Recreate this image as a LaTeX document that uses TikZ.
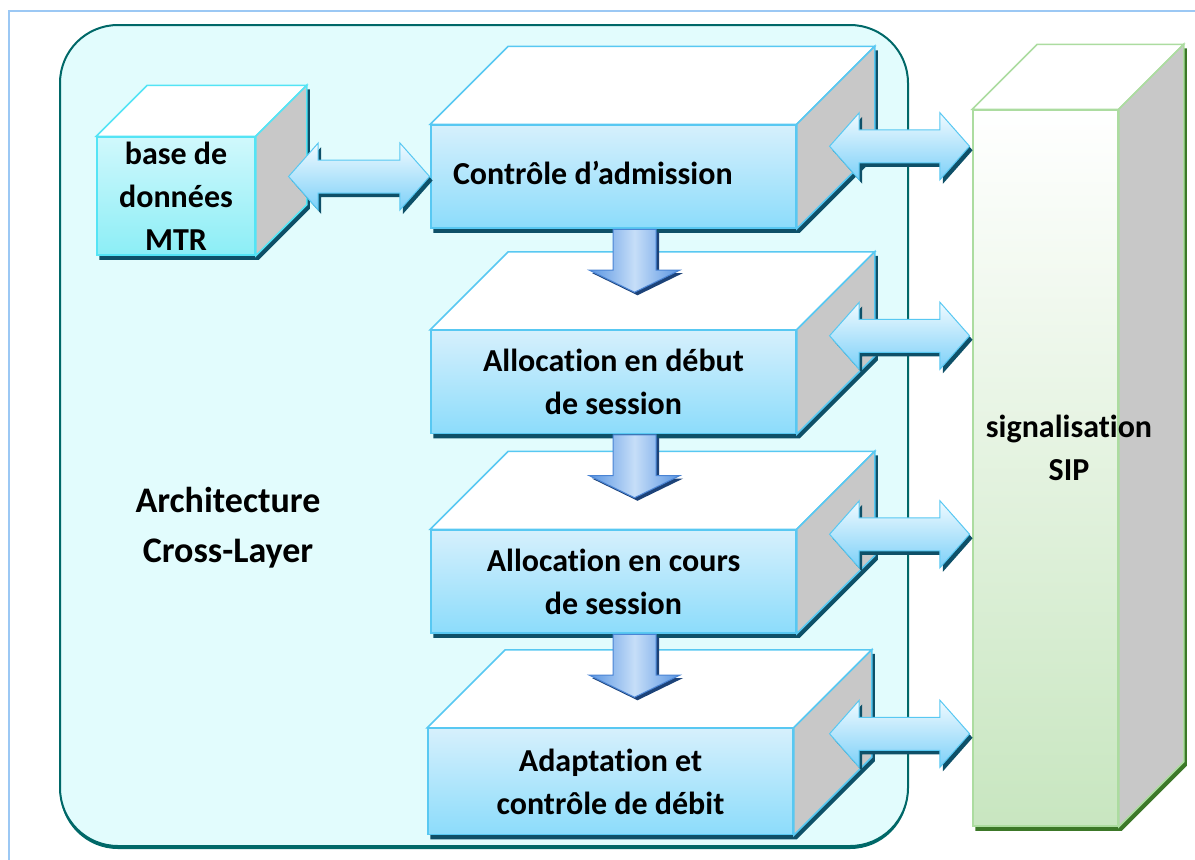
\documentclass[tikz,border=0pt]{standalone}
\usepackage{fontspec}
\setmainfont{Carlito}[Ligatures=NoCommon]
\usetikzlibrary{positioning, calc, shapes.arrows, shadows}
\definecolor{framecol}{RGB}{156,200,244}
\definecolor{xlfill}{RGB}{226,252,253}
\definecolor{xlline}{RGB}{0,104,104}
\definecolor{boxline}{RGB}{88,200,242}
\definecolor{boxtop}{RGB}{214,240,252}
\definecolor{boxbot}{RGB}{140,220,251}
\definecolor{boxside}{RGB}{200,200,200}
\definecolor{boxshadow}{RGB}{14,80,104}
\definecolor{dbline}{RGB}{84,228,245}
\definecolor{dbtop}{RGB}{208,248,252}
\definecolor{dbbot}{RGB}{140,238,246}
\definecolor{sipline}{RGB}{172,220,160}
\definecolor{sipbot}{RGB}{200,230,192}
\definecolor{sipshadow}{RGB}{60,120,40}
\definecolor{arrtop}{RGB}{240,250,255}
\definecolor{arrbot}{RGB}{124,208,248}
\definecolor{downedge}{RGB}{88,148,226}
\definecolor{downmid}{RGB}{198,222,248}
\definecolor{downline}{RGB}{74,132,212}
\definecolor{downshadow}{RGB}{28,66,120}

\pgfdeclarelayer{bglayer}
\pgfdeclarelayer{shadowlayer}
\pgfsetlayers{bglayer,shadowlayer,main}

% top and side faces of a box, plus its shadow
\newcommand{\cubefaces}[4]{%
  \begin{pgfonlayer}{shadowlayer}
    \fill[#4, transform canvas={xshift=3pt, yshift=-4pt}] (#1.north west) -- ++(#2,-#2)
      -- ($(#1.north east)+(#2,-#2)$) -- ($(#1.south east)+(#2,-#2)$)
      -- (#1.south east) -- (#1.south west) -- cycle;
  \end{pgfonlayer}
  \draw[#3, line width=1.5pt, fill=white] (#1.north west) -- ++(#2,-#2)
    -- ($(#1.north east)+(#2,-#2)$) -- (#1.north east) -- cycle;
  \draw[#3, line width=1.5pt, fill=boxside] (#1.north east) -- ++(#2,-#2)
    -- ($(#1.south east)+(#2,-#2)$) -- (#1.south east) -- cycle;
}

\begin{document}
\begin{tikzpicture}[
    x=1pt, y=-1pt,
    txt/.style={font=\fontsize{32}{43}\selectfont\bfseries, align=center},
    front/.style={txt, rectangle, draw=boxline, line width=1.5pt, top color=boxtop,
                  bottom color=boxbot, minimum width=365pt, minimum height=103pt, inner sep=0pt},
    dbfront/.style={txt, rectangle, draw=dbline, line width=1.5pt, top color=dbtop,
                  bottom color=dbbot, minimum width=158pt, minimum height=118pt, inner sep=0pt},
    sipfront/.style={rectangle, draw=sipline, line width=1.5pt, top color=white,
                  bottom color=sipbot, minimum width=145pt, minimum height=716pt, inner sep=0pt},
    dblarr/.style={double arrow, draw=boxline, line width=1pt, minimum height=140pt,
                  inner sep=16pt, double arrow head extend=17pt, double arrow tip angle=97,
                  top color=arrtop, bottom color=arrbot,
                  drop shadow={shadow xshift=3pt, shadow yshift=-4pt, fill=boxshadow, opacity=1}},
    downarr/.style={single arrow, shape border rotate=270, draw=downline, line width=1pt,
                  minimum height=63pt, inner sep=21pt, single arrow head extend=24pt,
                  single arrow tip angle=128, left color=downedge,
                  right color=downedge, middle color=downmid,
                  drop shadow={shadow xshift=3pt, shadow yshift=-3pt, fill=downshadow, opacity=1}},
]
    \useasboundingbox (0,0) rectangle (1195,860);

    % page frame and cross-layer container
    \begin{pgfonlayer}{bglayer}
        \draw[framecol, line width=1.5pt] (9,870) -- (9,11) -- (1200,11);
        \fill[xlline, rounded corners=58pt] (60,28) rectangle (908,849);
        \draw[xlline, line width=2pt, fill=xlfill, rounded corners=58pt] (60,25) rectangle (908,846);
    \end{pgfonlayer}

    \node[txt, font=\fontsize{36}{50}\selectfont\bfseries] (arch) at (228,528) {Architecture\\Cross-Layer};

    % database
    \node[dbfront] (mtr) at (176,196) {base de\\données\\MTR};
    \cubefaces{mtr}{51}{dbline}{boxshadow}

    % stack of functions
    \node[front] (ctrl) at (613.5,176.5) {\makebox[321pt][l]{\raisebox{8pt}{Contrôle d’admission}}};
    \node[front, below=101pt of ctrl] (allocA) {Allocation en début\\de session};
    \node[front, below=95pt of allocA] (allocB) {Allocation en cours\\de session};
    \node[front, below=94pt of allocB, xshift=-3pt, minimum height=106pt] (adapt) {Adaptation et\\contrôle de débit};
    \foreach \n in {ctrl,allocA,allocB,adapt}{
        \cubefaces{\n}{78}{boxline}{boxshadow}
    }

    \foreach \a in {ctrl,allocA,allocB}
        \node[downarr, anchor=tail] at ($(\a.south)+(21,0)$) {};

    % SIP signalling column
    \node[sipfront] (sip) at (1045.5,468) {};
    \cubefaces{sip}{65}{sipline}{sipshadow}
    \node[txt] (siptxt) at (1069,448) {signalisation\\SIP};

    % exchanges
    \node[dblarr, minimum height=141pt, left=0pt of ctrl] (dbarr) {};
    \foreach \n/\dy in {ctrl/22, allocA/6, allocB/5, adapt/6}
        \node[dblarr, anchor=east] at ($(sip.west |- \n.north)+(-2,\dy)$) {};
\end{tikzpicture}
\end{document}
